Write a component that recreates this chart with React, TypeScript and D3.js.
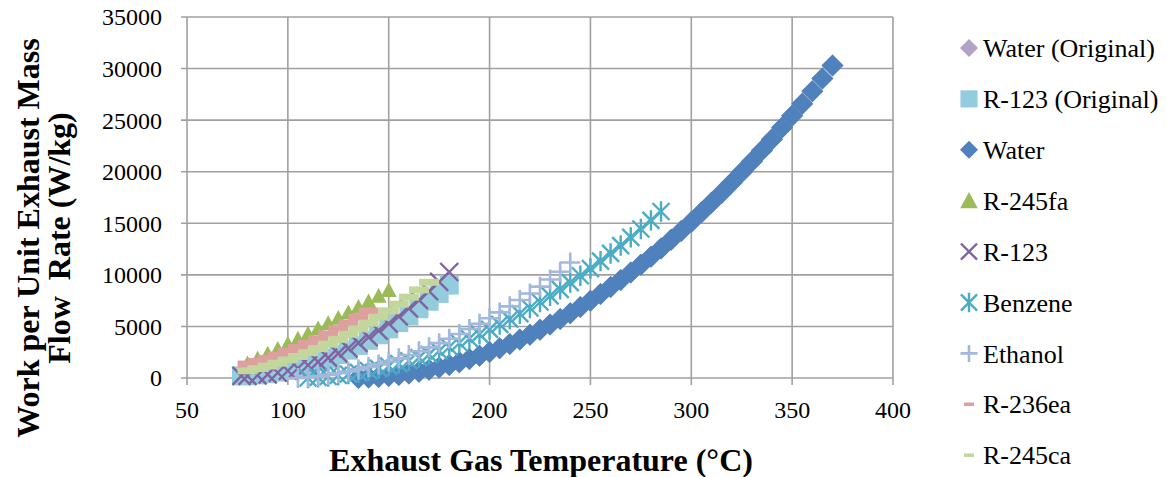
import React from "react";
import * as d3 from "d3";

// ---------- data ----------
const xTickValues = [50, 100, 150, 200, 250, 300, 350, 400];
const yTickValues = [0, 5000, 10000, 15000, 20000, 25000, 30000, 35000];

const waterT = [135,140,145,150,155,160,165,170,175,180,185,190,195,200,205,210,215,220,225,230,235,240,245,250,255,260,265,270,275,280,285,290,295,300,305,310,315,320,325,330,335,340,345,350,355,360,365,370];
const waterW = [10,41,100,187,301,441,606,800,1019,1265,1537,1837,2162,2515,2893,3298,3730,4189,4673,5185,5723,6288,6878,7496,8141,8812,9508,10233,10983,11761,12563,13394,14250,15134,16043,16979,17942,18932,19947,20990,22059,23155,24276,25425,26601,27803,29031,30286];

const waterOrigT = [135,140,145,150,155,160,165,170,175,180,185,190,195,200,205,210,215,220,225,230,235,240,245,250,255,260,265,270,275,280,285,290,295,300,305,310,315,320,325,330,335,340,345,350,355,360,365,370];
const waterOrigW = [10,41,100,187,301,441,606,800,1019,1265,1537,1837,2162,2515,2893,3298,3730,4189,4673,5185,5723,6288,6878,7496,8141,8812,9508,10233,10983,11761,12563,13394,14250,15134,16043,16979,17942,18932,19947,20990,22059,23155,24276,25425,26601,27803,29031,30286];

const benzeneT = [110,115,120,125,130,135,140,145,150,155,160,165,170,175,180,185,190,195,200,205,210,215,220,225,230,235,240,245,250,255,260,265,270,275,280,285];
const benzeneW = [0,62,147,256,388,544,723,926,1152,1402,1675,1972,2292,2636,3003,3394,3808,4246,4707,5192,5700,6232,6787,7366,7968,8594,9243,9916,10612,11332,12075,12842,13632,14446,15283,16144];

const ethanolT = [105,110,115,120,125,130,135,140,145,150,155,160,165,170,175,180,185,190,195,200,205,210,215,220,225,230,235,240];
const ethanolW = [0,75,176,302,454,631,835,1063,1318,1597,1903,2233,2590,2971,3379,3811,4270,4754,5264,5799,6360,6946,7558,8195,8858,9546,10300,11200];

const r245faT = [80,85,90,95,100,105,110,115,120,125,130,135,140,145,150];
const r245faW = [1400,1867,2340,2819,3304,3796,4294,4798,5308,5825,6348,6877,7412,7954,8502];

const r236eaT = [80,85,90,95,100,105,110,115,120,125,130,135,140];
const r236eaW = [1350,1606,1894,2213,2563,2945,3358,3803,4279,4786,5325,5896,6497];

const r245caT = [80,85,90,95,100,105,110,115,120,125,130,135,140,145,150,155,160,165,170];
const r245caW = [700,915,1162,1438,1746,2084,2454,2853,3284,3745,4238,4760,5314,5898,6514,7159,7836,8543,9282];

const r123T = [77,80,85,90,95,100,105,110,115,120,125,130,135,140,145,150,155,160,165,170,175,180];
const r123W = [200,209,261,361,508,703,945,1235,1572,1957,2389,2869,3396,3971,4593,5263,5980,6745,7557,8417,9324,10279];

const r123OrigT = [77,80,85,90,95,100,105,110,115,120,125,130,135,140,145,150,155,160,165,170,175,180];
const r123OrigW = [200,227,302,415,567,757,986,1252,1557,1900,2282,2702,3160,3656,4191,4764,5375,6025,6713,7439,8204,9007];

const seriesNames = ["Water (Original)", "R-123 (Original)", "Water", "R-245fa", "R-123", "Benzene", "Ethanol", "R-236ea", "R-245ca"];

// ---------- styling ----------
type Kind = "diamond" | "square" | "triangle" | "x" | "star" | "plus" | "dash";
const seriesStyle: { kind: Kind; color: string }[] = [
  { kind: "diamond", color: "#b3a2c7" },
  { kind: "square", color: "#93cddd" },
  { kind: "diamond", color: "#4f81bd" },
  { kind: "triangle", color: "#9bbb59" },
  { kind: "x", color: "#8064a2" },
  { kind: "star", color: "#4bacc6" },
  { kind: "plus", color: "#a3b8dc" },
  { kind: "dash", color: "#dda09f" },
  { kind: "dash", color: "#c3d69b" },
];

const seriesData: [number[], number[]][] = [
  [waterOrigT, waterOrigW],
  [r123OrigT, r123OrigW],
  [waterT, waterW],
  [r245faT, r245faW],
  [r123T, r123W],
  [benzeneT, benzeneW],
  [ethanolT, ethanolW],
  [r236eaT, r236eaW],
  [r245caT, r245caW],
];

const W = 1167;
const H = 477;
const plot = { left: 187, right: 893, top: 17, bottom: 378 };
const font = "'Liberation Serif', 'Times New Roman', serif";

function Marker({ kind, color, x, y, s = 1 }: { kind: Kind; color: string; x: number; y: number; s?: number }) {
  const t = `translate(${x},${y})`;
  switch (kind) {
    case "diamond": {
      const r = 11 * s;
      return <path transform={t} d={`M0,${-r}L${r},0L0,${r}L${-r},0Z`} fill={color} />;
    }
    case "square": {
      const h = 9.5 * s;
      return <rect transform={t} x={-h} y={-h} width={2 * h} height={2 * h} fill={color} />;
    }
    case "triangle": {
      const h = 8 * s;
      return <path transform={t} d={`M0,${-h}L${h},${h * 0.85}L${-h},${h * 0.85}Z`} fill={color} />;
    }
    case "x": {
      const h = 9 * s;
      return (
        <path transform={t} d={`M${-h},${-h}L${h},${h}M${-h},${h}L${h},${-h}`} stroke={color} strokeWidth={2.4} fill="none" />
      );
    }
    case "star": {
      const h = 8.5 * s;
      return (
        <path
          transform={t}
          d={`M${-h},${-h}L${h},${h}M${-h},${h}L${h},${-h}M0,${-h * 1.2}L0,${h * 1.2}`}
          stroke={color}
          strokeWidth={2.4}
          fill="none"
        />
      );
    }
    case "plus": {
      const h = 10 * s;
      return <path transform={t} d={`M${-h},0L${h},0M0,${-h}L0,${h}`} stroke={color} strokeWidth={2.6} fill="none" />;
    }
    case "dash": {
      const w = 10 * s;
      const hh = 3.5 * s;
      return <rect transform={t} x={-w} y={-hh} width={2 * w} height={2 * hh} fill={color} />;
    }
  }
}

export default function App() {
  const x = d3.scaleLinear().domain([50, 400]).range([plot.left, plot.right]);
  const y = d3.scaleLinear().domain([0, 35000]).range([plot.bottom, plot.top]);
  const grid = "#a0a0a0";

  const legendX = 969;
  const legendY0 = 48;
  const legendStep = 50.9;
  const legendScale: Record<Kind, number> = {
    diamond: 0.82,
    square: 0.9,
    triangle: 1.1,
    x: 0.9,
    star: 0.95,
    plus: 0.85,
    dash: 0.5,
  };
  const txt = { fontFamily: font } as React.CSSProperties;

  return (
    <svg width={W} height={H} style={{ position: "absolute", left: 0, top: 0, background: "#fff" }}>
      <rect x={0} y={0} width={W} height={H} fill="#fff" />
      {/* grid */}
      {yTickValues.map((v) => (
        <line key={"gy" + v} x1={plot.left - 6} x2={plot.right} y1={y(v)} y2={y(v)} stroke={grid} strokeWidth={1.6} />
      ))}
      {xTickValues.map((v) => (
        <line key={"gx" + v} x1={x(v)} x2={x(v)} y1={plot.top} y2={plot.bottom + 7} stroke={grid} strokeWidth={1.6} />
      ))}
      {/* y tick labels */}
      {yTickValues.map((v) => (
        <text key={"ty" + v} x={162} y={y(v)} dy="0.35em" textAnchor="end" fontSize={24} fill="#000" style={txt}>
          {v}
        </text>
      ))}
      {/* x tick labels */}
      {xTickValues.map((v) => (
        <text key={"tx" + v} x={x(v)} y={418} textAnchor="middle" fontSize={24} fill="#000" style={txt}>
          {v}
        </text>
      ))}
      {/* series */}
      {seriesData.map(([ts, ws], i) => (
        <g key={"s" + i}>
          {ts.map((t, j) => (
            <Marker key={j} kind={seriesStyle[i].kind} color={seriesStyle[i].color} x={x(t)} y={y(ws[j])} />
          ))}
        </g>
      ))}
      {/* axis titles */}
      <text x={541} y={471} textAnchor="middle" fontSize={32} fontWeight="bold" fill="#000" style={txt}>
        Exhaust Gas Temperature (°C)
      </text>
      <text transform="translate(39,238) rotate(-90)" textAnchor="middle" fontSize={32} fontWeight="bold" fill="#000" style={txt}>
        Work per Unit Exhaust Mass
      </text>
      <text transform="translate(70,238) rotate(-90)" textAnchor="middle" fontSize={32} fontWeight="bold" fill="#000" style={{ ...txt, whiteSpace: "pre" }}>
        {"Flow  Rate (W/kg)"}
      </text>
      {/* legend */}
      {seriesNames.map((name, i) => {
        const cy = legendY0 + i * legendStep;
        const st = seriesStyle[i];
        return (
          <g key={"l" + i}>
            <Marker kind={st.kind} color={st.color} x={legendX} y={cy} s={legendScale[st.kind]} />
            <text x={983} y={cy} dy="0.35em" fontSize={26} fill="#000" style={txt}>
              {name}
            </text>
          </g>
        );
      })}
    </svg>
  );
}
